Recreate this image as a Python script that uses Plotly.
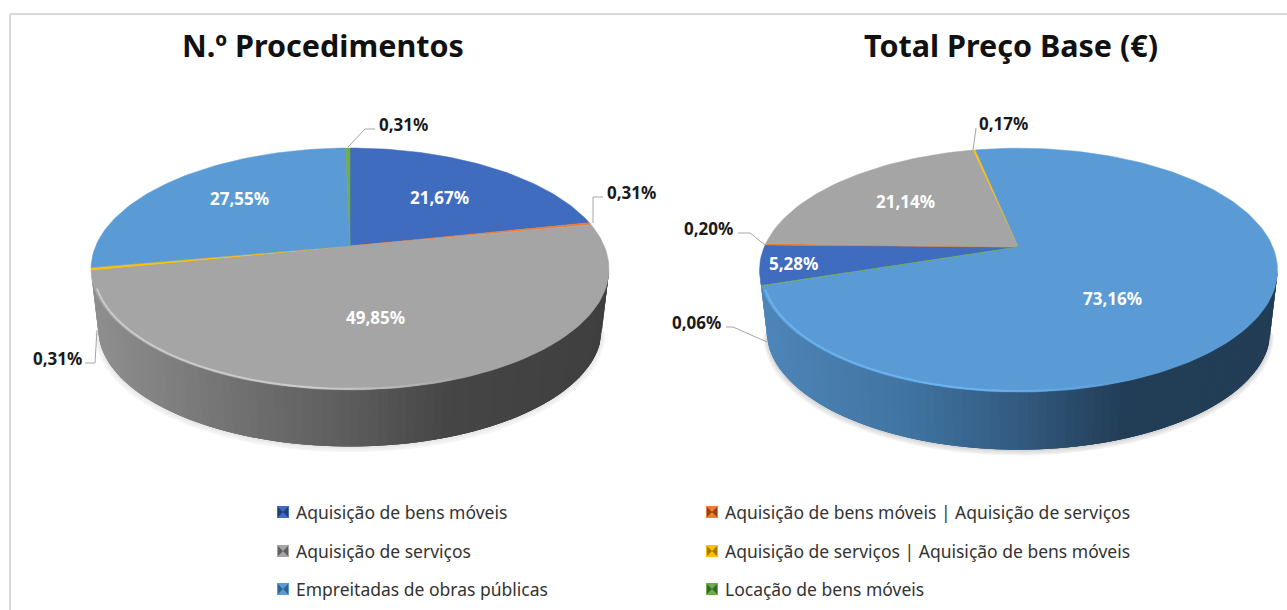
import math
import plotly.graph_objects as go

categories = ["Aquisição de bens móveis", "Aquisição de bens móveis | Aquisição de serviços",
              "Aquisição de serviços", "Aquisição de serviços | Aquisição de bens móveis",
              "Empreitadas de obras públicas", "Locação de bens móveis"]
procedimentos = [21.67, 0.31, 49.85, 0.31, 27.55, 0.31]
preco_base = [5.28, 0.20, 21.14, 0.17, 73.16, 0.06]
titles = ["N.º Procedimentos", "Total Preço Base (€)"]
colors = ["#3f6cbf", "#ed7d31", "#a5a5a5", "#ffc000", "#5b9bd5", "#70ad47"]
legend_dark = ["#1f3f78", "#8f4416", "#5f5f5f", "#a07800", "#2f6494", "#2f6b2a"]
W, H = 1287, 610
KK = 0.19


def hexrgb(c):
    return tuple(int(c[i:i + 2], 16) for i in (1, 3, 5))


def mix(stops, t):
    t = max(0, min(1, t))
    for (a, ca), (b, cb) in zip(stops, stops[1:]):
        if t <= b:
            f = (t - a) / (b - a)
            ra, rb = hexrgb(ca), hexrgb(cb)
            return "rgb(%d,%d,%d)" % tuple(round(x + (y - x) * f) for x, y in zip(ra, rb))
    return stops[-1][1]


fig = go.Figure()


def poly(xs, ys, color, lw=0.6):
    fig.add_trace(go.Scatter(x=xs, y=ys, mode="lines", fill="toself", fillcolor=color,
                             line=dict(color=color, width=lw), hoverinfo="skip", showlegend=False))


def line(xs, ys, color, lw=1.0):
    fig.add_trace(go.Scatter(x=xs, y=ys, mode="lines", line=dict(color=color, width=lw),
                             hoverinfo="skip", showlegend=False))


def draw_pie(values, start, cx, cy, back, depth, stops, hl, hl_fade, shadow):
    a = back * (1 + KK)
    b = 259 * math.sqrt(1 - KK * KK)

    def rim(deg):
        r = math.radians(deg)
        u, v = math.sin(r), math.cos(r)
        d = 1 + KK * v
        return cx + b * u / d, cy - a * v / d

    cey = cy + 23
    S = 0.972

    def low(p, grow=0.0, dy=0.0):
        return cx + (p[0] - cx) * (S + grow), cey + depth + dy + (p[1] - cey) * (S + grow)

    # soft shadow
    tang = math.degrees(math.acos(-KK))
    angs = [tang + (360 - 2 * tang) * i / 120 for i in range(121)]
    for g, dy, col in [(0.014, 4, shadow[0]), (0.009, 3, shadow[1]), (0.004, 1.5, shadow[2])]:
        pts = [low(rim(q), g, dy) for q in angs]
        poly([p[0] for p in pts], [p[1] for p in pts], col, 0)

    # slice boundaries
    bounds = [start]
    for val in values:
        bounds.append(bounds[-1] + val / sum(values) * 360)

    # side wall: painted from the left end to the right end, each strip overlapping the next
    n = 90
    q_a, q_b = angs[-1], angs[0]
    for i in range(n):
        q0 = q_a + (q_b - q_a) * i / n
        q1 = q_a + (q_b - q_a) * min(n, i + 3) / n
        qm = q_a + (q_b - q_a) * (i + 0.5) / n
        top = [rim(q0 + (q1 - q0) * k / 3) for k in range(4)]
        bot = [low(p) for p in reversed(top)]
        t = (rim(qm)[0] - (cx - 259)) / 518
        poly([p[0] for p in top + bot], [p[1] for p in top + bot], mix(stops, t), 0)

    # top face
    for j, col in enumerate(colors):
        a0, a1 = bounds[j], bounds[j + 1]
        m = max(2, int((a1 - a0) / 1.5) + 1)
        pts = [rim(a0 + (a1 - a0) * k / m) for k in range(m + 1)]
        poly([cx] + [p[0] for p in pts] + [cx], [cy] + [p[1] for p in pts] + [cy], col, 0.5)

    # bevel highlight on the front rim
    m = 70
    for i in range(m):
        q0 = 250 - (250 - 125) * i / m
        q1 = 250 - (250 - 125) * (i + 1) / m
        p0, p1 = rim(q0), rim(q1)
        f = 0.99
        x0, y0 = cx + (p0[0] - cx) * f, cey + (p0[1] - cey) * f
        x1, y1 = cx + (p1[0] - cx) * f, cey + (p1[1] - cey) * f
        t = (x0 - (cx - 259)) / 518
        col = mix([(0, hl), (0.42, hl), (0.72, hl_fade), (1, hl_fade)], t)
        line([x0, x1], [y0, y1], col, 1.8)


gray_stops = [(0, "#8f8f8f"), (0.3, "#6f6f6f"), (0.5, "#5c5c5c"), (0.7, "#454545"), (1, "#3f3f3f")]
blue_stops = [(0, "#4e86b9"), (0.3, "#3f729f"), (0.5, "#335a80"), (0.7, "#223e57"), (1, "#223d55")]
draw_pie(procedimentos, 0, 350, 246, 98, 60, gray_stops, "#cdcdcd", "#a5a5a5",
         ["#f6f6f6", "#f0f0f0", "#e8e8e8"])
draw_pie(preco_base, 252, 1018.5, 247, 98.8, 61, blue_stops, "#6ab4f4", "#5b9bd5",
         ["#f2f2f2", "#e6e6e6", "#d8d8d8"])

# leader lines
leaders = [
    ([348, 365, 375], [147, 129, 129]), ([593, 593, 603], [223, 197, 197]),
    ([97, 95, 85], [330, 363, 363]), ([973, 976], [150, 128]),
    ([765, 750, 738], [245, 233, 233]), ([767, 733, 726], [342, 327, 327]),
]
for lx, ly in leaders:
    line(lx, ly, "#a6a6a6", 1)

# legend markers
leg_x = [283, 712, 283, 712, 283, 712]
leg_y = [512, 512, 551, 551, 589, 589]
for i in range(6):
    fig.add_trace(go.Scatter(x=[leg_x[i]], y=[leg_y[i]], mode="markers",
                             marker=dict(symbol="square", size=12, color=colors[i]),
                             hoverinfo="skip", showlegend=False))
    fig.add_trace(go.Scatter(x=[leg_x[i]], y=[leg_y[i]], mode="markers",
                             marker=dict(symbol="bowtie", size=10, color=legend_dark[i]),
                             hoverinfo="skip", showlegend=False))

ann = []


def text(x, y, s, size, color, family, bold=False, anchor="center"):
    ann.append(dict(x=x, y=y, xref="x", yref="y", text=f"<b>{s}</b>" if bold else s, showarrow=False,
                    xanchor=anchor, yanchor="middle",
                    font=dict(size=size, color=color, family=family)))


def pct(v):
    return f"{v:.2f}".replace(".", ",") + "%"


LBL = "Noto Sans"
text(322.5, 45, titles[0], 30.5, "#111111", "Noto Sans", True)
text(1010.5, 45, titles[1], 30.5, "#111111", "Noto Sans", True)

lab_pos_l = [(439, 197), (631, 192), (375, 317), (57, 358), (239, 198), (403, 124)]
lab_pos_r = [(793, 263), (708, 228), (905, 201), (1003, 123), (1112, 298), (696, 322)]
for i in range(6):
    x, y = lab_pos_l[i]
    text(x, y, pct(procedimentos[i]), 17, "#1a1a1a" if i in (1, 3, 5) else "#ffffff", LBL, True)
    x, y = lab_pos_r[i]
    text(x, y, pct(preco_base[i]), 17, "#1a1a1a" if i in (1, 3, 5) else "#ffffff", LBL, True)

for i, c in enumerate(categories):
    text(leg_x[i] + 11, leg_y[i], c, 17.5, "#333333", "Noto Sans", False, "left")

shapes = [
    dict(type="line", x0=10, x1=10, y0=14, y1=H, xref="x", yref="y", line=dict(color="#d9d9d9", width=2)),
    dict(type="line", x0=10, x1=W, y0=14, y1=14, xref="x", yref="y", line=dict(color="#d9d9d9", width=2)),
]

fig.update_layout(
    width=W, height=H, margin=dict(l=0, r=0, t=0, b=0), autosize=False,
    paper_bgcolor="white", plot_bgcolor="white", showlegend=False,
    xaxis=dict(range=[0, W], visible=False, fixedrange=True),
    yaxis=dict(range=[H, 0], visible=False, fixedrange=True),
    annotations=ann, shapes=shapes,
)
fig.write_html("out.html", config=dict(displayModeBar=False),
               post_script="document.body.style.margin='0';document.body.style.overflow='hidden';")
